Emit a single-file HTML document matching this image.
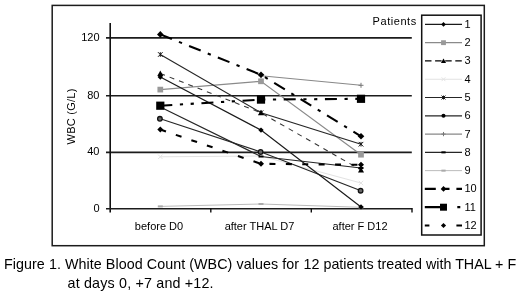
<!DOCTYPE html>
<html><head><meta charset="utf-8"><style>
html,body{margin:0;padding:0;background:#fff;}
body{width:520px;height:295px;overflow:hidden;position:relative;filter:grayscale(1) blur(0.25px);}
svg{position:absolute;left:0;top:0;}
.t{font-family:"Liberation Sans",sans-serif;font-size:11px;fill:#000;}
.cap{position:absolute;font-family:"Liberation Sans",sans-serif;font-size:14.3px;line-height:17.5px;color:#000;white-space:nowrap;}
</style></head><body>
<svg width="520" height="295" viewBox="0 0 520 295">
<rect x="52.2" y="5.4" width="432.1" height="240.3" fill="none" stroke="#1c1c1c" stroke-width="1.5"/>
<line x1="106" y1="37.9" x2="411.8" y2="37.9" stroke="#1c1c1c" stroke-width="1.6"/><line x1="106" y1="95.7" x2="411.8" y2="95.7" stroke="#1c1c1c" stroke-width="1.6"/><line x1="106" y1="152.4" x2="411.8" y2="152.4" stroke="#1c1c1c" stroke-width="1.6"/>
<line x1="110.2" y1="23" x2="110.2" y2="212.5" stroke="#111" stroke-width="1.6"/>
<line x1="106" y1="208.8" x2="412.2" y2="208.8" stroke="#1c1c1c" stroke-width="1.6"/>
<line x1="210.8" y1="208" x2="210.8" y2="212.6" stroke="#111" stroke-width="1.4"/>
<line x1="311.3" y1="208" x2="311.3" y2="212.6" stroke="#111" stroke-width="1.4"/>
<line x1="412" y1="208" x2="412" y2="212.6" stroke="#111" stroke-width="1.4"/>
<text x="99.5" y="40.5" class="t" text-anchor="end">120</text>
<text x="99.5" y="99.0" class="t" text-anchor="end">80</text>
<text x="99.5" y="155.4" class="t" text-anchor="end">40</text>
<text x="99.5" y="211.8" class="t" text-anchor="end">0</text>
<text x="0" y="0" class="t" letter-spacing="0.25" text-anchor="middle" transform="translate(74.9 116.4) rotate(-90)">WBC (G/L)</text>
<text x="159" y="230" class="t" text-anchor="middle">before D0</text>
<text x="259.5" y="230" class="t" text-anchor="middle">after THAL D7</text>
<text x="360" y="230" class="t" text-anchor="middle">after F D12</text>
<text x="372.6" y="24.9" class="t" letter-spacing="0.55">Patients</text>
<polyline points="160.30,206.40 261.00,204.00 361.00,207.30" fill="none" stroke="#bbb" stroke-width="1.0"/><polyline points="160.30,156.80 261.00,156.00 361.00,183.00" fill="none" stroke="#e2e2e2" stroke-width="1.0"/><polyline points="261.00,75.80 361.00,85.30" fill="none" stroke="#888" stroke-width="1.1"/><polyline points="160.30,89.60 261.00,81.30 361.00,154.70" fill="none" stroke="#8a8a8a" stroke-width="1.2"/><polyline points="160.30,107.00 261.00,156.50 361.00,168.00" fill="none" stroke="#262626" stroke-width="1.2"/><polyline points="160.30,118.80 261.00,152.00 361.00,190.70" fill="none" stroke="#262626" stroke-width="1.2"/><polyline points="160.30,54.50 261.00,112.70 361.00,144.20" fill="none" stroke="#262626" stroke-width="1.2"/><polyline points="160.30,77.00 261.00,130.10 361.00,206.90" fill="none" stroke="#1a1a1a" stroke-width="1.2"/><polyline points="160.30,73.50 261.00,112.80 361.00,170.00" fill="none" stroke="#333" stroke-width="1.05" stroke-dasharray="5 5"/><polyline points="160.30,129.60 261.00,163.80 361.00,164.80" fill="none" stroke="#000" stroke-width="2.1" stroke-dasharray="6 10.4"/><polyline points="160.30,105.70 261.00,99.60 361.00,98.80" fill="none" stroke="#000" stroke-width="2.1" stroke-dasharray="12 7.6 3.2 7.6 3.2 7.6"/><polyline points="160.30,34.40 261.00,74.80 361.00,136.30" fill="none" stroke="#000" stroke-width="2.1" stroke-dasharray="12.5 7.6 3.3 7.6"/>
<rect x="157.80" y="205.40" width="5.00" height="2" fill="#aaa"/><rect x="258.50" y="203.00" width="5.00" height="2" fill="#aaa"/><rect x="358.50" y="206.30" width="5.00" height="2" fill="#aaa"/><path d="M158.10 154.60L162.50 159.00M162.50 154.60L158.10 159.00" stroke="#e4e4e4" stroke-width="1" fill="none"/><path d="M258.80 153.80L263.20 158.20M263.20 153.80L258.80 158.20" stroke="#e4e4e4" stroke-width="1" fill="none"/><path d="M358.80 180.80L363.20 185.20M363.20 180.80L358.80 185.20" stroke="#e4e4e4" stroke-width="1" fill="none"/><path d="M258.50 75.80L263.50 75.80M261.00 73.30L261.00 78.30" stroke="#777" stroke-width="1" fill="none"/><path d="M358.50 85.30L363.50 85.30M361.00 82.80L361.00 87.80" stroke="#777" stroke-width="1" fill="none"/><rect x="157.45" y="86.75" width="5.70" height="5.70" fill="#999"/><rect x="258.15" y="78.45" width="5.70" height="5.70" fill="#999"/><rect x="358.15" y="151.85" width="5.70" height="5.70" fill="#999"/><rect x="157.80" y="106.00" width="5.00" height="2" fill="#000"/><rect x="258.50" y="155.50" width="5.00" height="2" fill="#000"/><rect x="358.50" y="167.00" width="5.00" height="2" fill="#000"/><circle cx="159.90" cy="118.80" r="2.3" fill="#666" stroke="#111" stroke-width="1.3"/><circle cx="260.60" cy="152.00" r="2.3" fill="#666" stroke="#111" stroke-width="1.3"/><circle cx="360.60" cy="190.70" r="2.3" fill="#666" stroke="#111" stroke-width="1.3"/><path d="M158.00 52.20L162.60 56.80M162.60 52.20L158.00 56.80M160.30 52.20L160.30 56.80" stroke="#111" stroke-width="1" fill="none"/><path d="M258.70 110.40L263.30 115.00M263.30 110.40L258.70 115.00M261.00 110.40L261.00 115.00" stroke="#111" stroke-width="1" fill="none"/><path d="M358.70 141.90L363.30 146.50M363.30 141.90L358.70 146.50M361.00 141.90L361.00 146.50" stroke="#111" stroke-width="1" fill="none"/><path d="M160.30 74.30L163.00 77.00L160.30 79.70L157.60 77.00Z" fill="#000"/><path d="M261.00 127.40L263.70 130.10L261.00 132.80L258.30 130.10Z" fill="#000"/><path d="M361.00 204.20L363.70 206.90L361.00 209.60L358.30 206.90Z" fill="#000"/><path d="M160.30 70.50L163.30 75.90L157.30 75.90Z" fill="#000"/><path d="M261.00 109.80L264.00 115.20L258.00 115.20Z" fill="#000"/><path d="M361.00 167.00L364.00 172.40L358.00 172.40Z" fill="#000"/><path d="M160.30 126.60L163.30 129.60L160.30 132.60L157.30 129.60Z" fill="#000"/><path d="M261.00 160.80L264.00 163.80L261.00 166.80L258.00 163.80Z" fill="#000"/><path d="M361.00 161.80L364.00 164.80L361.00 167.80L358.00 164.80Z" fill="#000"/><rect x="156.20" y="101.60" width="8.20" height="8.20" fill="#000"/><rect x="256.90" y="95.50" width="8.20" height="8.20" fill="#000"/><rect x="356.90" y="94.70" width="8.20" height="8.20" fill="#000"/><path d="M160.30 31.10L163.60 34.40L160.30 37.70L157.00 34.40Z" fill="#000"/><path d="M261.00 71.50L264.30 74.80L261.00 78.10L257.70 74.80Z" fill="#000"/><path d="M361.00 133.00L364.30 136.30L361.00 139.60L357.70 136.30Z" fill="#000"/>
<rect x="421.7" y="15.2" width="59.4" height="219.8" fill="#fff" stroke="#111" stroke-width="1.5"/>
<line x1="425.0" y1="24.40" x2="462.0" y2="24.40" stroke="#1a1a1a" stroke-width="1.2"/><path d="M443.50 22.10L445.80 24.40L443.50 26.70L441.20 24.40Z" fill="#000"/><text x="464.5" y="27.90" class="t">1</text><line x1="425.0" y1="42.68" x2="462.0" y2="42.68" stroke="#8a8a8a" stroke-width="1.2"/><rect x="441.08" y="40.26" width="4.84" height="4.84" fill="#999"/><text x="464.5" y="46.18" class="t">2</text><line x1="425.0" y1="60.96" x2="462.0" y2="60.96" stroke="#000" stroke-width="1.3" stroke-dasharray="6.5 3.6"/><path d="M443.50 58.41L446.05 63.00L440.95 63.00Z" fill="#000"/><text x="464.5" y="64.46" class="t">3</text><line x1="425.0" y1="79.24" x2="462.0" y2="79.24" stroke="#e2e2e2" stroke-width="1.0"/><path d="M441.63 77.37L445.37 81.11M445.37 77.37L441.63 81.11" stroke="#e4e4e4" stroke-width="1" fill="none"/><text x="464.5" y="82.74" class="t">4</text><line x1="425.0" y1="97.52" x2="462.0" y2="97.52" stroke="#262626" stroke-width="1.2"/><path d="M441.55 95.57L445.45 99.48M445.45 95.57L441.55 99.48M443.50 95.57L443.50 99.48" stroke="#111" stroke-width="1" fill="none"/><text x="464.5" y="101.02" class="t">5</text><line x1="425.0" y1="115.80" x2="462.0" y2="115.80" stroke="#262626" stroke-width="1.2"/><circle cx="443.50" cy="115.80" r="2.04" fill="#000"/><text x="464.5" y="119.30" class="t">6</text><line x1="425.0" y1="134.08" x2="462.0" y2="134.08" stroke="#888" stroke-width="1.1"/><path d="M441.38 134.08L445.62 134.08M443.50 131.96L443.50 136.21" stroke="#777" stroke-width="1" fill="none"/><text x="464.5" y="137.58" class="t">7</text><line x1="425.0" y1="152.36" x2="462.0" y2="152.36" stroke="#262626" stroke-width="1.2"/><rect x="441.38" y="151.36" width="4.25" height="2" fill="#000"/><text x="464.5" y="155.86" class="t">8</text><line x1="425.0" y1="170.64" x2="462.0" y2="170.64" stroke="#bbb" stroke-width="1.0"/><rect x="441.38" y="169.64" width="4.25" height="2" fill="#aaa"/><text x="464.5" y="174.14" class="t">9</text><path d="M424.8 188.92H435.8M443 188.92H449.5M456.4 188.92H462" stroke="#000" stroke-width="2.2"/><path d="M443.50 186.12L446.31 188.92L443.50 191.73L440.69 188.92Z" fill="#000"/><text x="464.5" y="192.42" class="t">10</text><path d="M424.8 207.20H440M457.3 207.20H460.3" stroke="#000" stroke-width="2.2"/><rect x="440.01" y="203.72" width="6.97" height="6.97" fill="#000"/><text x="464.5" y="210.70" class="t">11</text><path d="M424.8 225.48H429.4M456.4 225.48H462" stroke="#000" stroke-width="2.2"/><path d="M443.50 222.93L446.05 225.48L443.50 228.03L440.95 225.48Z" fill="#000"/><text x="464.5" y="228.98" class="t">12</text>
</svg>
<div class="cap" style="left:4px;top:255.8px;letter-spacing:0.06px">Figure 1. White Blood Count (WBC) values for</div>
<div class="cap" style="left:303.6px;top:255.8px;">12 patients treated with THAL + F</div>
<div class="cap" style="left:67.5px;top:274.5px;letter-spacing:0.18px">at days 0, +7 and +12.</div>
</body></html>
